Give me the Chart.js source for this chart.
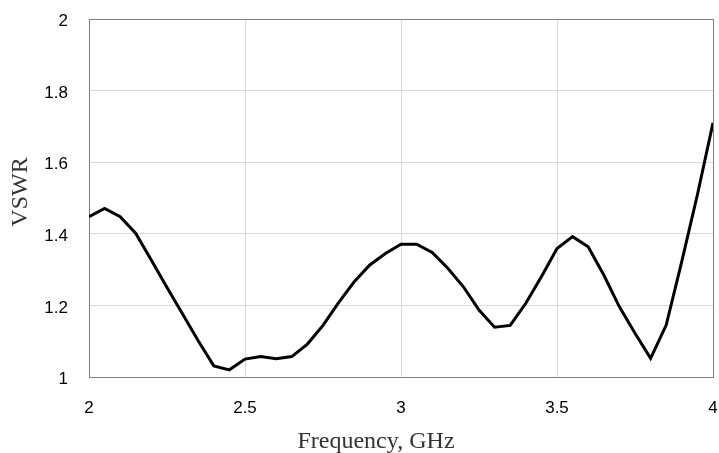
<!DOCTYPE html>
<html>
<head>
<meta charset="utf-8">
<script src="https://cdn.jsdelivr.net/npm/chart.js@4/dist/chart.umd.min.js"></script>
<style>
  html, body { margin: 0; padding: 0; background: #fff; }
  #wrap { width: 719px; height: 453px; }
</style>
</head>
<body>
<div id="wrap"><canvas id="vswr-chart"></canvas></div>
<script>
const frequency = [2.0, 2.05, 2.1, 2.15, 2.2, 2.25, 2.3, 2.35, 2.4, 2.45,
  2.5, 2.55, 2.6, 2.65, 2.7, 2.75, 2.8, 2.85, 2.9, 2.95,
  3.0, 3.05, 3.1, 3.15, 3.2, 3.25, 3.3, 3.35, 3.4, 3.45,
  3.5, 3.55, 3.6, 3.65, 3.7, 3.75, 3.8, 3.85, 3.9, 3.95, 4.0];
const vswr = [1.448, 1.471, 1.448, 1.401, 1.326, 1.25, 1.176, 1.101, 1.031, 1.02,
  1.05, 1.057, 1.051, 1.057, 1.092, 1.144, 1.208, 1.266, 1.313, 1.345,
  1.371, 1.371, 1.348, 1.304, 1.252, 1.187, 1.139, 1.144, 1.206, 1.28,
  1.359, 1.392, 1.364, 1.285, 1.196, 1.122, 1.052, 1.145, 1.323, 1.509, 1.71];

const xTicks = [2, 2.5, 3, 3.5, 4];
const yTicks = [1, 1.2, 1.4, 1.6, 1.8, 2];
const xTitle = "Frequency, GHz";
const yTitle = "VSWR";

const points = frequency.map((f, i) => ({ x: f, y: vswr[i] }));

const gridColor = (edge) => (ctx) =>
  ctx.tick && ctx.tick.value === edge ? "#7f7f7f" : "#d9d9d9";

// keep the plot box where the reference has it (labels may overhang)
const noPad = (s) => {
  s.paddingLeft = 0; s.paddingRight = 0; s.paddingTop = 0; s.paddingBottom = 0;
};

// axis titles sit a little off-centre in the original, so draw them by hand
const axisTitles = {
  id: "axisTitles",
  afterDraw(chart) {
    const c = chart.ctx;
    c.save();
    c.fillStyle = "#333";
    c.font = "24px 'Liberation Serif', 'Times New Roman', serif";
    c.textAlign = "center";
    c.textBaseline = "alphabetic";
    c.fillText(xTitle, 376, 448);
    c.translate(27, 192);
    c.rotate(-Math.PI / 2);
    c.fillText(yTitle, 0, 0);
    c.restore();
  },
};

new Chart(document.getElementById("vswr-chart"), {
  type: "line",
  data: {
    datasets: [{
      data: points,
      borderColor: "#000",
      borderWidth: 3,
      pointRadius: 0,
      tension: 0,
      fill: false,
    }],
  },
  plugins: [axisTitles],
  options: {
    responsive: true,
    maintainAspectRatio: false,
    animation: false,
    layout: { padding: { top: 19, right: 6, left: 0, bottom: 0 } },
    plugins: { legend: { display: false }, tooltip: { enabled: false } },
    scales: {
      x: {
        type: "linear",
        min: 2,
        max: 4,
        afterBuildTicks: (s) => { s.ticks = xTicks.map((v) => ({ value: v })); },
        afterFit: (s) => { s.height = 76; noPad(s); },
        ticks: {
          padding: 21,
          color: "#000",
          font: { family: "Liberation Sans, Arial", size: 17 },
          maxRotation: 0,
          callback: (v) => String(v),
        },
        grid: { color: gridColor(4), drawTicks: false },
        border: { color: "#7f7f7f", width: 1 },
      },
      y: {
        min: 1,
        max: 2,
        afterBuildTicks: (s) => { s.ticks = yTicks.map((v) => ({ value: v })); },
        afterFit: (s) => { s.width = 89; noPad(s); },
        ticks: {
          padding: 21,
          labelOffset: 2.5,
          color: "#000",
          font: { family: "Liberation Sans, Arial", size: 17 },
          callback: (v) => String(Math.round(v * 10) / 10),
        },
        grid: { color: gridColor(2), drawTicks: false },
        border: { color: "#7f7f7f", width: 1 },
      },
    },
  },
});
</script>
</body>
</html>
